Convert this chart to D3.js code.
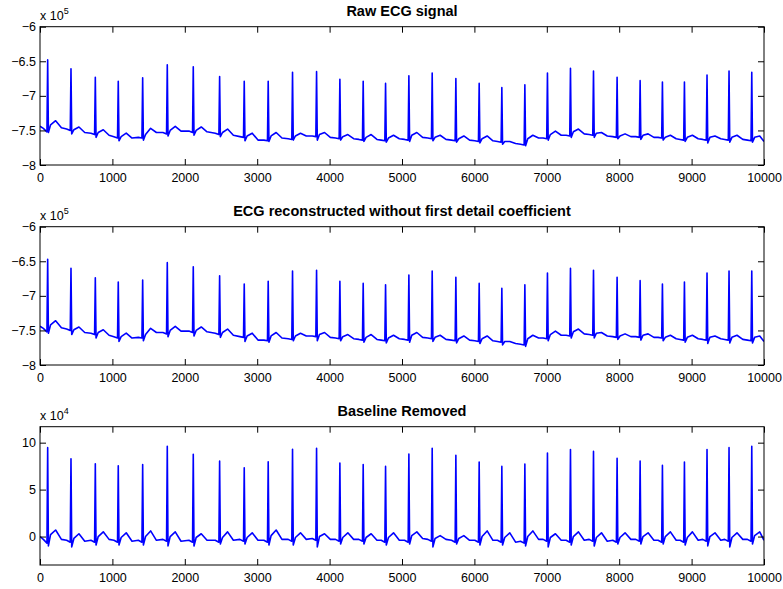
<!DOCTYPE html>
<html>
<head>
<meta charset="utf-8">
<script src="https://cdn.jsdelivr.net/npm/d3@7"></script>
<style>
  html, body { margin: 0; padding: 0; background: #ffffff; }
  svg { display: block; font-family: "Liberation Sans", Arial, Helvetica, sans-serif; }
</style>
</head>
<body>
<svg id="chart" width="783" height="589"></svg>
<script>
// sample index of every read-off point (shared by the three traces)
const sampleIdx = [0,
  46, 96, 106, 116, 146, 216, 296,
  368, 418, 428, 438, 468, 538, 618,
  704, 754, 764, 774, 804, 874, 954,
  1021, 1071, 1081, 1091, 1121, 1191, 1271,
  1358, 1408, 1418, 1428, 1458, 1528, 1608,
  1698, 1748, 1758, 1768, 1798, 1868, 1948,
  2057, 2107, 2117, 2127, 2157, 2227, 2307,
  2421, 2471, 2481, 2491, 2521, 2591, 2671,
  2761, 2811, 2821, 2831, 2861, 2931, 3011,
  3092, 3142, 3152, 3162, 3192, 3262, 3342,
  3428, 3478, 3488, 3498, 3528, 3598, 3678,
  3760, 3810, 3820, 3830, 3860, 3930, 4010,
  4082, 4132, 4142, 4152, 4182, 4252, 4332,
  4404, 4454, 4464, 4474, 4504, 4574, 4654,
  4713, 4763, 4773, 4783, 4813, 4883, 4963,
  5035, 5085, 5095, 5105, 5135, 5205, 5285,
  5357, 5407, 5417, 5427, 5457, 5527, 5607,
  5684, 5734, 5744, 5754, 5784, 5854, 5934,
  6006, 6056, 6066, 6076, 6106, 6176, 6256,
  6319, 6369, 6379, 6389, 6419, 6489, 6569,
  6637, 6687, 6697, 6707, 6737, 6807, 6887,
  6949, 6999, 7009, 7019, 7049, 7119, 7199,
  7267, 7317, 7327, 7337, 7367, 7437, 7517,
  7585, 7635, 7645, 7655, 7685, 7755, 7835,
  7911, 7961, 7971, 7981, 8011, 8081, 8161,
  8229, 8279, 8289, 8299, 8329, 8399, 8479,
  8537, 8587, 8597, 8607, 8637, 8707, 8787,
  8841, 8891, 8901, 8911, 8941, 9011, 9091,
  9153, 9203, 9213, 9223, 9253, 9323, 9403,
  9457, 9507, 9517, 9527, 9557, 9627, 9707,
  9771, 9821, 9831, 9841, 9871, 9941, 10000
];

// raw signal, in units of 1e5
const rawEcg = [-7.44,
  -7.47, -7.52, -6.48, -7.53, -7.42, -7.36, -7.46,
  -7.48, -7.50, -6.61, -7.55, -7.49, -7.45, -7.53,
  -7.54, -7.56, -6.73, -7.60, -7.53, -7.49, -7.57,
  -7.59, -7.61, -6.79, -7.65, -7.59, -7.54, -7.61,
  -7.60, -7.61, -6.74, -7.64, -7.56, -7.47, -7.53,
  -7.53, -7.55, -6.55, -7.58, -7.50, -7.44, -7.51,
  -7.51, -7.53, -6.58, -7.57, -7.50, -7.45, -7.52,
  -7.54, -7.56, -6.72, -7.59, -7.53, -7.48, -7.57,
  -7.59, -7.60, -6.79, -7.65, -7.58, -7.54, -7.64,
  -7.64, -7.65, -6.79, -7.66, -7.58, -7.53, -7.61,
  -7.62, -7.63, -6.66, -7.64, -7.58, -7.54, -7.58,
  -7.58, -7.59, -6.65, -7.64, -7.56, -7.53, -7.60,
  -7.61, -7.62, -6.76, -7.64, -7.59, -7.56, -7.62,
  -7.63, -7.64, -6.79, -7.66, -7.60, -7.56, -7.63,
  -7.64, -7.65, -6.82, -7.67, -7.61, -7.57, -7.62,
  -7.63, -7.64, -6.71, -7.66, -7.57, -7.53, -7.60,
  -7.61, -7.62, -6.67, -7.65, -7.60, -7.57, -7.63,
  -7.64, -7.65, -6.75, -7.67, -7.62, -7.58, -7.64,
  -7.65, -7.66, -6.82, -7.68, -7.62, -7.58, -7.65,
  -7.66, -7.67, -6.88, -7.70, -7.66, -7.66, -7.69,
  -7.70, -7.71, -6.84, -7.72, -7.62, -7.57, -7.61,
  -7.61, -7.62, -6.67, -7.64, -7.56, -7.51, -7.57,
  -7.57, -7.58, -6.60, -7.60, -7.52, -7.48, -7.55,
  -7.56, -7.57, -6.64, -7.60, -7.54, -7.53, -7.58,
  -7.59, -7.60, -6.73, -7.62, -7.58, -7.55, -7.59,
  -7.59, -7.60, -6.78, -7.63, -7.57, -7.55, -7.60,
  -7.60, -7.61, -6.80, -7.64, -7.60, -7.57, -7.62,
  -7.63, -7.64, -6.80, -7.66, -7.60, -7.57, -7.62,
  -7.63, -7.64, -6.70, -7.68, -7.60, -7.58, -7.62,
  -7.63, -7.64, -6.64, -7.67, -7.60, -7.57, -7.63,
  -7.64, -7.65, -6.66, -7.67, -7.60, -7.58, -7.66
];

// reconstructed signal without first detail coefficient, in units of 1e5
const reconEcg = [-7.44,
  -7.47, -7.52, -6.47, -7.54, -7.42, -7.36, -7.46,
  -7.48, -7.50, -6.60, -7.56, -7.49, -7.45, -7.53,
  -7.54, -7.56, -6.74, -7.61, -7.53, -7.49, -7.57,
  -7.59, -7.61, -6.80, -7.66, -7.59, -7.54, -7.61,
  -7.60, -7.61, -6.77, -7.65, -7.56, -7.47, -7.53,
  -7.53, -7.55, -6.52, -7.59, -7.50, -7.44, -7.51,
  -7.51, -7.53, -6.58, -7.58, -7.50, -7.45, -7.52,
  -7.54, -7.56, -6.71, -7.60, -7.53, -7.48, -7.57,
  -7.59, -7.60, -6.83, -7.66, -7.58, -7.54, -7.64,
  -7.64, -7.65, -6.79, -7.67, -7.58, -7.53, -7.61,
  -7.62, -7.63, -6.64, -7.65, -7.58, -7.54, -7.58,
  -7.58, -7.59, -6.63, -7.65, -7.56, -7.53, -7.60,
  -7.61, -7.62, -6.79, -7.65, -7.59, -7.56, -7.62,
  -7.63, -7.64, -6.82, -7.67, -7.60, -7.56, -7.63,
  -7.64, -7.65, -6.84, -7.68, -7.61, -7.57, -7.62,
  -7.63, -7.64, -6.70, -7.67, -7.57, -7.53, -7.60,
  -7.61, -7.62, -6.64, -7.66, -7.60, -7.57, -7.63,
  -7.64, -7.65, -6.73, -7.68, -7.62, -7.58, -7.64,
  -7.65, -7.66, -6.82, -7.69, -7.62, -7.58, -7.65,
  -7.66, -7.67, -6.89, -7.71, -7.66, -7.66, -7.69,
  -7.70, -7.71, -6.84, -7.73, -7.62, -7.57, -7.61,
  -7.61, -7.62, -6.67, -7.65, -7.56, -7.51, -7.57,
  -7.57, -7.58, -6.60, -7.61, -7.52, -7.48, -7.55,
  -7.56, -7.57, -6.63, -7.61, -7.54, -7.53, -7.58,
  -7.59, -7.60, -6.73, -7.63, -7.58, -7.55, -7.59,
  -7.59, -7.60, -6.78, -7.64, -7.57, -7.55, -7.60,
  -7.60, -7.61, -6.83, -7.65, -7.60, -7.57, -7.62,
  -7.63, -7.64, -6.80, -7.67, -7.60, -7.57, -7.62,
  -7.63, -7.64, -6.67, -7.69, -7.60, -7.58, -7.62,
  -7.63, -7.64, -6.64, -7.68, -7.60, -7.57, -7.63,
  -7.64, -7.65, -6.64, -7.68, -7.60, -7.58, -7.66
];

// baseline removed signal, in units of 1e4
const baselineRemoved = [0.0,
  -0.3, -0.7, 9.47, -1.0, 0.2, 0.7, -0.3,
  -0.4, -0.6, 8.29, -1.1, -0.2, 0.3, -0.5,
  -0.4, -0.6, 7.76, -0.9, 0.0, 0.5, -0.3,
  -0.4, -0.6, 7.54, -0.9, -0.1, 0.4, -0.5,
  -0.4, -0.6, 7.68, -0.9, 0.0, 0.6, -0.4,
  -0.3, -0.5, 9.61, -1.0, 0.0, 0.5, -0.5,
  -0.4, -0.6, 8.76, -1.0, -0.1, 0.3, -0.4,
  -0.4, -0.6, 8.04, -0.8, -0.1, 0.5, -0.4,
  -0.3, -0.5, 7.33, -0.8, -0.1, 0.4, -0.4,
  -0.4, -0.6, 7.97, -0.9, 0.1, 0.7, -0.3,
  -0.3, -0.5, 9.29, -0.9, -0.1, 0.4, -0.3,
  -0.2, -0.4, 9.40, -1.1, 0.0, 0.3, -0.3,
  -0.3, -0.5, 7.83, -0.8, -0.1, 0.4, -0.3,
  -0.3, -0.5, 7.68, -0.8, -0.1, 0.3, -0.4,
  -0.4, -0.6, 7.47, -0.9, -0.1, 0.4, -0.4,
  -0.4, -0.6, 8.79, -0.8, 0.1, 0.5, -0.2,
  -0.3, -0.5, 9.40, -1.1, -0.2, 0.1, -0.3,
  -0.4, -0.6, 8.65, -0.8, -0.2, 0.1, -0.4,
  -0.4, -0.6, 7.93, -0.9, 0.0, 0.6, -0.4,
  -0.4, -0.6, 7.47, -0.9, -0.1, 0.4, -0.6,
  -0.5, -0.7, 7.72, -1.0, 0.0, 0.6, -0.3,
  -0.3, -0.5, 8.90, -1.1, -0.1, 0.3, -0.4,
  -0.4, -0.6, 9.26, -0.9, 0.0, 0.5, -0.4,
  -0.3, -0.5, 9.07, -1.0, -0.1, 0.4, -0.5,
  -0.4, -0.6, 8.33, -0.8, -0.1, 0.4, -0.3,
  -0.3, -0.5, 8.04, -0.8, 0.0, 0.4, -0.4,
  -0.4, -0.6, 7.58, -0.8, 0.0, 0.5, -0.4,
  -0.4, -0.6, 7.93, -0.9, -0.1, 0.5, -0.4,
  -0.3, -0.5, 9.26, -1.0, 0.0, 0.4, -0.4,
  -0.3, -0.5, 9.47, -1.1, -0.1, 0.4, -0.3,
  -0.3, -0.5, 9.61, -0.8, 0.1, 0.5, -0.4
];

const panelTitles = ["Raw ECG signal", "ECG reconstructed without first detail coefficient", "Baseline Removed"];
const exponents = ["5", "5", "4"];
const xTicks = [0, 1000, 2000, 3000, 4000, 5000, 6000, 7000, 8000, 9000, 10000];
const yTicksEcg = [-8, -7.5, -7, -6.5, -6];
const yTickLabelsEcg = ["\u22128", "\u22127.5", "\u22127", "\u22126.5", "\u22126"];
const yTicksBase = [0, 5, 10];
const yTickLabelsBase = ["0", "5", "10"];

const svg = d3.select('#chart');
svg.append('rect').attr('width', 783).attr('height', 589).attr('fill', '#ffffff');

const left = 40, right = 764, panelH = 138.3;
const panelTops = [26.7, 226.7, 426.7];

const panels = [
  { series: rawEcg, domain: [-8, -6], ticks: yTicksEcg, labels: yTickLabelsEcg },
  { series: reconEcg, domain: [-8, -6], ticks: yTicksEcg, labels: yTickLabelsEcg },
  { series: baselineRemoved, domain: [-3.03, 11.7], ticks: yTicksBase, labels: yTickLabelsBase }
];

const xScale = d3.scaleLinear().domain([0, 10000]).range([left, right]);

panels.forEach((p, i) => {
  const g = svg.append('g').attr('transform', `translate(0, ${panelTops[i]})`);
  const yScale = d3.scaleLinear().domain(p.domain).range([panelH, 0]);

  // clip so the trace stays inside the box
  g.append('clipPath').attr('id', 'clip' + i)
    .append('rect').attr('x', left).attr('y', 0).attr('width', right - left).attr('height', panelH);

  const line = d3.line()
    .x((d, j) => xScale(sampleIdx[j]))
    .y(d => yScale(d));

  g.append('path')
    .attr('clip-path', `url(#clip${i})`)
    .attr('d', line(p.series))
    .attr('fill', 'none')
    .attr('stroke', '#0000ff')
    .attr('stroke-width', 1.6)
    .attr('stroke-linejoin', 'round');

  // axes, ticks pointing inward like matlab
  const xb = g.append('g').attr('transform', `translate(0, ${panelH})`)
    .call(d3.axisBottom(xScale).tickValues(xTicks).tickSize(-6).tickPadding(8).tickFormat(d3.format('d')));
  const xt = g.append('g')
    .call(d3.axisTop(xScale).tickValues(xTicks).tickSize(-6).tickFormat(''));
  const yl = g.append('g').attr('transform', `translate(${left}, 0)`)
    .call(d3.axisLeft(yScale).tickValues(p.ticks).tickSize(-6).tickPadding(4).tickFormat((d, k) => p.labels[k]));
  const yr = g.append('g').attr('transform', `translate(${right}, 0)`)
    .call(d3.axisRight(yScale).tickValues(p.ticks).tickSize(-6).tickFormat(''));

  [xb, xt, yl, yr].forEach(a => {
    a.select('.domain').remove();
    a.selectAll('.tick line').attr('stroke', '#000000').attr('stroke-width', 1);
    a.selectAll('.tick text')
      .attr('fill', '#000000')
      .style('font-family', '"Liberation Sans", Arial, Helvetica, sans-serif')
      .style('font-size', '12.5px');
  });

  // box
  g.append('rect')
    .attr('x', left).attr('y', 0)
    .attr('width', right - left).attr('height', panelH)
    .attr('fill', 'none').attr('stroke', '#000000').attr('stroke-width', 1);

  // exponent label
  const ex = g.append('text')
    .attr('x', left).attr('y', -6.5)
    .attr('font-size', '12.5px')
    .attr('fill', '#000000')
    .text('x 10');
  ex.append('tspan')
    .attr('dy', -6)
    .attr('font-size', '9px')
    .text(exponents[i]);

  // title
  g.append('text')
    .attr('x', (left + right) / 2).attr('y', -11)
    .attr('text-anchor', 'middle')
    .attr('font-size', '14.5px')
    .attr('font-weight', 'bold')
    .attr('fill', '#000000')
    .text(panelTitles[i]);
});
</script>
</body>
</html>
